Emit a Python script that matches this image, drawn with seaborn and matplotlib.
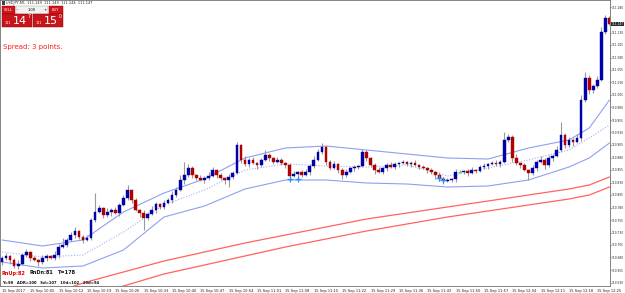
import numpy as np
import pandas as pd
import seaborn as sns
import matplotlib.pyplot as plt
from matplotlib.patches import Rectangle

# USDJPY M1 candles (prices)
closes = [110.679, 110.683, 110.675, 110.663, 110.667, 110.685, 110.691, 110.679, 110.675, 110.671,
          110.679, 110.683, 110.679, 110.685, 110.701, 110.705, 110.715, 110.725, 110.733, 110.721,
          110.715, 110.719, 110.755, 110.771, 110.779, 110.765, 110.771, 110.775, 110.769, 110.785,
          110.799, 110.815, 110.795, 110.775, 110.769, 110.759, 110.767, 110.775, 110.787, 110.781,
          110.789, 110.795, 110.805, 110.815, 110.835, 110.845, 110.859, 110.845, 110.839, 110.835,
          110.839, 110.843, 110.855, 110.845, 110.839, 110.835, 110.841, 110.849, 110.905, 110.875,
          110.867, 110.875, 110.869, 110.865, 110.875, 110.885, 110.879, 110.871, 110.875, 110.869,
          110.865, 110.843, 110.847, 110.851, 110.845, 110.851, 110.863, 110.875, 110.891, 110.901,
          110.871, 110.859, 110.867, 110.855, 110.845, 110.851, 110.859, 110.861, 110.863, 110.891,
          110.879, 110.865, 110.855, 110.851, 110.859, 110.865, 110.861, 110.867, 110.869, 110.871,
          110.867, 110.869, 110.865, 110.861, 110.859, 110.855, 110.851, 110.845, 110.837, 110.833,
          110.835, 110.837, 110.851, 110.851, 110.853, 110.849, 110.855, 110.853, 110.861, 110.863,
          110.867, 110.869, 110.867, 110.871, 110.915, 110.921, 110.879, 110.869, 110.865, 110.855,
          110.849, 110.859, 110.871, 110.875, 110.865, 110.879, 110.883, 110.895, 110.925, 110.905,
          110.915, 110.911, 110.919, 110.995, 111.039, 111.015, 111.023, 111.035, 111.131, 111.159,
          111.147]
opens = [110.671, 110.679, 110.683, 110.675, 110.663, 110.667, 110.685, 110.691, 110.679, 110.675,
         110.671, 110.679, 110.683, 110.679, 110.685, 110.701, 110.705, 110.715, 110.725, 110.733,
         110.721, 110.715, 110.719, 110.755, 110.771, 110.779, 110.765, 110.771, 110.775, 110.769,
         110.785, 110.799, 110.815, 110.795, 110.775, 110.769, 110.759, 110.767, 110.775, 110.787,
         110.781, 110.789, 110.795, 110.805, 110.815, 110.835, 110.845, 110.859, 110.845, 110.839,
         110.835, 110.839, 110.843, 110.855, 110.845, 110.839, 110.835, 110.841, 110.849, 110.905,
         110.875, 110.867, 110.875, 110.869, 110.865, 110.875, 110.885, 110.879, 110.871, 110.875,
         110.869, 110.865, 110.843, 110.847, 110.851, 110.845, 110.851, 110.863, 110.875, 110.891,
         110.901, 110.871, 110.859, 110.867, 110.855, 110.845, 110.851, 110.859, 110.861, 110.863,
         110.891, 110.879, 110.865, 110.855, 110.851, 110.859, 110.865, 110.861, 110.867, 110.869,
         110.871, 110.867, 110.869, 110.865, 110.861, 110.859, 110.855, 110.851, 110.845, 110.837,
         110.833, 110.835, 110.837, 110.851, 110.851, 110.853, 110.849, 110.855, 110.853, 110.861,
         110.863, 110.867, 110.869, 110.867, 110.871, 110.915, 110.921, 110.879, 110.869, 110.865,
         110.855, 110.849, 110.859, 110.871, 110.875, 110.865, 110.879, 110.883, 110.895, 110.925,
         110.905, 110.915, 110.911, 110.919, 110.995, 111.039, 111.015, 111.023, 111.035, 111.131,
         111.159]
# wick lengths beyond the body, in points (0.001)
wick_up = [4, 6, 2, 4, 8, 4, 6, 2, 4, 2,
           6, 4, 2, 8, 6, 14, 4, 6, 8, 2,
           4, 6, 4, 38, 6, 2, 8, 4, 6, 4,
           6, 10, 2, 4, 2, 6, 4, 8, 4, 2,
           6, 4, 8, 6, 10, 26, 8, 4, 2, 6,
           4, 8, 6, 2, 4, 2, 6, 4, 6, 2,
           8, 4, 6, 2, 4, 10, 4, 2, 6, 4,
           2, 4, 6, 2, 4, 6, 4, 8, 6, 8,
           2, 4, 6, 2, 4, 6, 2, 4, 2, 6,
           4, 2, 4, 6, 2, 4, 6, 4, 2, 4,
           2, 4, 6, 2, 4, 2, 4, 2, 6, 4,
           4, 2, 6, 4, 2, 4, 6, 2, 4, 6,
           2, 4, 6, 4, 16, 6, 4, 8, 2, 4,
           2, 6, 4, 8, 4, 6, 4, 8, 26, 4,
           6, 4, 8, 10, 12, 6, 4, 8, 10, 6,
           4]
wick_dn = [6, 4, 8, 4, 6, 2, 4, 6, 2, 8,
           4, 6, 2, 4, 6, 2, 4, 2, 6, 4,
           6, 2, 4, 4, 2, 6, 4, 8, 2, 6,
           2, 4, 6, 2, 8, 24, 4, 2, 6, 4,
           4, 2, 6, 4, 2, 8, 4, 6, 4, 2,
           6, 4, 2, 6, 4, 8, 14, 4, 2, 6,
           4, 6, 2, 8, 4, 2, 6, 4, 2, 4,
           6, 4, 2, 8, 4, 2, 6, 4, 2, 4,
           6, 4, 2, 6, 8, 4, 2, 6, 4, 2,
           6, 4, 8, 2, 4, 6, 2, 4, 6, 2,
           4, 6, 2, 4, 2, 6, 4, 8, 4, 6,
           2, 4, 6, 2, 4, 6, 2, 4, 2, 4,
           6, 2, 4, 6, 2, 4, 8, 4, 6, 2,
           14, 4, 6, 2, 8, 4, 6, 2, 4, 6,
           4, 8, 2, 6, 4, 8, 6, 4, 2, 4,
           2]

# indicator lines (sampled at bar indices)
band_idx = [0, 10, 20, 30, 40, 50, 60, 70, 80, 90, 100, 110, 120, 130, 140, 145, 150]
bb_upper = [110.715, 110.703, 110.715, 110.771, 110.809, 110.837, 110.879, 110.899, 110.903,
            110.895, 110.887, 110.879, 110.877, 110.899, 110.915, 110.939, 110.995]
bb_mid = [110.691, 110.681, 110.685, 110.731, 110.785, 110.815, 110.855, 110.867, 110.863,
          110.861, 110.865, 110.843, 110.859, 110.875, 110.895, 110.919, 110.945]
bb_lower = [110.671, 110.659, 110.663, 110.695, 110.761, 110.783, 110.817, 110.835, 110.835,
            110.829, 110.827, 110.821, 110.823, 110.835, 110.861, 110.879, 110.909]
ma1_idx = [10, 20, 30, 40, 50, 60, 70, 80, 90, 100, 110, 120, 130, 140, 145, 150]
ma1 = [110.601, 110.629, 110.651, 110.673, 110.691, 110.709, 110.725, 110.741, 110.757,
       110.769, 110.781, 110.793, 110.805, 110.817, 110.825, 110.841]
ma2_idx = [20, 30, 40, 50, 60, 70, 80, 90, 100, 110, 120, 130, 140, 145, 150]
ma2 = [110.599, 110.623, 110.647, 110.665, 110.683, 110.701, 110.717, 110.733, 110.747,
       110.761, 110.773, 110.785, 110.797, 110.805, 110.821]

signal_idx = [71, 73, 108, 109]
signal_px = [110.837, 110.837, 110.839, 110.835]

price_ticks = [110.630, 110.655, 110.680, 110.705, 110.730, 110.755, 110.780, 110.805, 110.830,
               110.855, 110.880, 110.905, 110.930, 110.955, 110.980, 111.005, 111.030, 111.055,
               111.080, 111.105, 111.130, 111.180]
time_labels = ['15 Sep 2017', '15 Sep 10:05', '15 Sep 10:12', '15 Sep 10:19', '15 Sep 10:26',
               '15 Sep 10:33', '15 Sep 10:40', '15 Sep 10:47', '15 Sep 10:54', '15 Sep 11:01',
               '15 Sep 11:08', '15 Sep 11:15', '15 Sep 11:22', '15 Sep 11:29', '15 Sep 11:36',
               '15 Sep 11:43', '15 Sep 11:50', '15 Sep 11:57', '15 Sep 12:04', '15 Sep 12:11',
               '15 Sep 12:18', '15 Sep 12:25']
last_price = 111.147

sns.set_style('white')
plt.rcParams['font.family'] = ['DejaVu Sans']

W, H = 625, 293
fig = plt.figure(figsize=(W / 100, H / 100), dpi=100)
ax = fig.add_axes([0, 7 / H, 610 / W, 286 / H])

n = len(closes)
x = np.arange(n)
o = np.array(opens)
c = np.array(closes)
hi = np.maximum(o, c) + np.array(wick_up) / 1000
lo = np.minimum(o, c) - np.array(wick_dn) / 1000

# indicators
bands = pd.DataFrame({'i': band_idx, 'up': bb_upper, 'mid': bb_mid, 'lo': bb_lower})
sns.lineplot(data=bands, x='i', y='up', ax=ax, color='#8f9ff2', lw=0.8)
sns.lineplot(data=bands, x='i', y='lo', ax=ax, color='#8f9ff2', lw=0.8)
sns.lineplot(data=bands, x='i', y='mid', ax=ax, color='#a3b0f2', lw=0.8, linestyle=(0, (1, 1.5)))
sns.lineplot(x=ma1_idx, y=ma1, ax=ax, color='#ff6262', lw=0.9)
sns.lineplot(x=ma2_idx, y=ma2, ax=ax, color='#ff6262', lw=0.9)

# candles
ax.vlines(x, lo, hi, color='#9a9a9a', lw=0.8, zorder=3)
up = c > o
dn = c < o
flat = c == o
ax.bar(x[up], (c - o)[up], bottom=o[up], width=0.66, color='#0000a8',
       edgecolor='#0000a8', lw=0.3, zorder=4)
ax.bar(x[dn], (c - o)[dn], bottom=o[dn], width=0.66, color='#b00000',
       edgecolor='#b00000', lw=0.3, zorder=4)
ax.hlines(c[flat], x[flat] - 0.4, x[flat] + 0.4, color='#33ee33', lw=0.9, zorder=4)

sns.scatterplot(x=signal_idx, y=signal_px, ax=ax, marker='+', color='#2a8cff',
                s=14, linewidth=0.9, zorder=5)

ax.set_xlim(-0.49, -0.49 + 610 / 4.05)
ax.set_ylim(110.623, 111.195)
ax.set_xlabel('')
ax.set_ylabel('')

ax.yaxis.tick_right()
ax.set_yticks(price_ticks)
ax.set_yticklabels([f'{p:.3f}' for p in price_ticks])
ax.set_xticks(list(range(0, n, 7))[:len(time_labels)])
ax.set_xticklabels(time_labels, ha='left')
ax.tick_params(axis='x', labelsize=2.6, length=2, width=0.5, pad=0.5, colors='#222222')
ax.tick_params(axis='y', labelsize=2.1, length=1.0, width=0.5, pad=0.3, colors='#222222')
for s in ax.spines.values():
    s.set_color('#707070')
    s.set_linewidth(0.6)

ax.text(1.002, last_price, f'{last_price:.3f}', transform=ax.get_yaxis_transform(),
        fontsize=2.1, color='white', va='center', ha='left',
        bbox=dict(boxstyle='square,pad=0.1', fc='#2b2b2b', ec='none'), clip_on=False)

# overlay in pixel coordinates for the terminal widgets and indicator text
ov = fig.add_axes([0, 0, 1, 1], zorder=10)
ov.set_xlim(0, W)
ov.set_ylim(H, 0)
ov.axis('off')

ov.text(6, 3.2, 'USDJPY,M1  111.149  111.149  111.144  111.147', fontsize=2.5,
        color='#222222', va='center')
ov.add_patch(Rectangle((1.5, 1.2), 3, 4, fc='#444444', ec='none'))

ov.add_patch(Rectangle((2, 6), 13, 7.5, fc='#d0151c', ec='#8a0000', lw=0.3))
ov.text(8.5, 9.8, 'SELL', fontsize=2.6, color='white', ha='center', va='center')
ov.add_patch(Rectangle((15.5, 6), 32.5, 7.5, fc='#f2f2f2', ec='#9a9a9a', lw=0.3))
ov.text(18, 9.8, '-', fontsize=3, color='black', ha='center', va='center')
ov.text(31.5, 9.8, '1.00', fontsize=2.6, color='black', ha='center', va='center')
ov.text(45.5, 9.8, '+', fontsize=3, color='black', ha='center', va='center')
ov.add_patch(Rectangle((48.5, 6), 14.5, 7.5, fc='#d0151c', ec='#8a0000', lw=0.3))
ov.text(55.7, 9.8, 'BUY', fontsize=2.6, color='white', ha='center', va='center')

for x0, big, sup in [(2, '14', '7'), (33, '15', '0')]:
    ov.add_patch(Rectangle((x0, 13.5), 30, 13.5, fc='#c8141b', ec='#8a0000', lw=0.3))
    ov.text(x0 + 3, 22.5, '111', fontsize=2.4, color='white', va='center')
    ov.text(x0 + 10.5, 20.8, big, fontsize=8, color='white', va='center')
    ov.text(x0 + 25.5, 16.5, sup, fontsize=3.4, color='white', va='center')

ov.text(3, 47, 'Spread: 3 points.', fontsize=5, color='#ff1a1a', va='center')

ov.text(2, 273, 'RnUp:82', fontsize=3.6, color='#e00000', va='center', fontweight='bold')
ov.text(30, 273, 'RnDn:81', fontsize=3.6, color='#111111', va='center', fontweight='bold')
ov.text(58, 273, 'T=178', fontsize=3.6, color='#111111', va='center', fontweight='bold')
ov.text(2, 282.5, 'Y=98   ADR=100   Sd=107   10d=102   20d=94', fontsize=2.7,
        color='#111111', va='center', fontweight='bold')

fig.savefig('out.png', dpi=100, facecolor='white')
